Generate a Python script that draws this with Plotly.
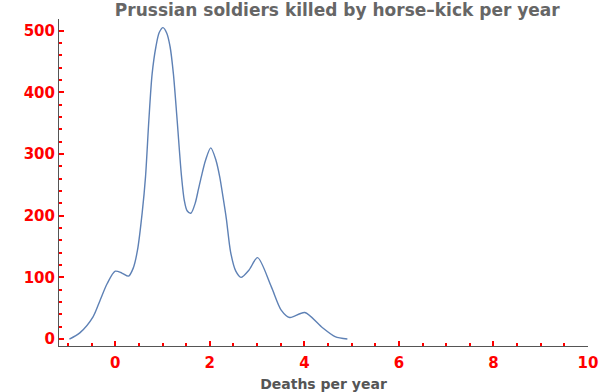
import plotly.graph_objects as go

deaths = [-0.97, -0.75, -0.47, -0.32, -0.17, 0.0, 0.14, 0.28, 0.38, 0.47, 0.57, 0.64, 0.71, 0.78,
          0.86, 0.93, 1.01, 1.09, 1.16, 1.23, 1.31, 1.40, 1.46, 1.52, 1.60, 1.69, 1.76, 1.82,
          1.91, 2.02, 2.13, 2.21, 2.28, 2.35, 2.44, 2.55, 2.66, 2.83, 3.01, 3.30, 3.51, 3.69,
          4.01, 4.36, 4.65, 4.91]
density = [0, 10, 36, 63, 90, 110, 107, 102, 115, 144, 205, 263, 354, 430,
           474, 497, 505, 496, 474, 430, 354, 265, 225, 208, 204, 220, 243, 263,
           290, 310, 290, 263, 230, 195, 141, 110, 100, 112, 132, 85, 47, 35,
           43, 20, 4, 0]

title_text = "Prussian soldiers killed by horse\u2013kick per year"
xlabel = "Deaths per year"

fig = go.Figure()
fig.add_trace(go.Scatter(x=deaths, y=density, mode="lines",
                         line=dict(color="#5E81B5", width=1.4, shape="spline", smoothing=0.8),
                         hoverinfo="skip", showlegend=False))

fig.update_layout(
    width=600, height=392,
    margin=dict(l=59, r=12, t=19, b=46, autoexpand=False),
    paper_bgcolor="white", plot_bgcolor="white",
    font=dict(family="DejaVu Sans"),
    title=dict(text="<b>" + title_text + "</b>", x=0.526, xref="paper", xanchor="center",
               y=0.975, yref="container", yanchor="middle",
               font=dict(size=17, color="#666666")),
)
fig.update_xaxes(
    range=[-1.19, 10], showgrid=False, zeroline=False, automargin=False,
    showline=True, linecolor="#555555", linewidth=1,
    ticks="inside", ticklen=5, tickcolor="red", tickwidth=1.5,
    tick0=0, dtick=2, ticklabelstandoff=3,
    minor=dict(dtick=0.5, ticks="inside", ticklen=3, tickcolor="red", tickwidth=1.5),
    tickfont=dict(size=15, color="red", family="DejaVu Sans", weight="bold"),
    title=dict(text="<b>" + xlabel + "</b>", font=dict(size=14, color="#555555"), standoff=12),
)
fig.update_yaxes(
    range=[-11.3, 519], showgrid=False, zeroline=False, automargin=False,
    showline=True, linecolor="#555555", linewidth=1,
    ticks="inside", ticklen=5, tickcolor="red", tickwidth=1.5,
    tick0=0, dtick=100,
    minor=dict(dtick=20, ticks="inside", ticklen=3, tickcolor="red", tickwidth=1.5),
    tickfont=dict(size=15, color="red", family="DejaVu Sans", weight="bold"),
)

fig.write_html("out.html", config={"displayModeBar": False},
               post_script="document.body.style.margin='0px';")
